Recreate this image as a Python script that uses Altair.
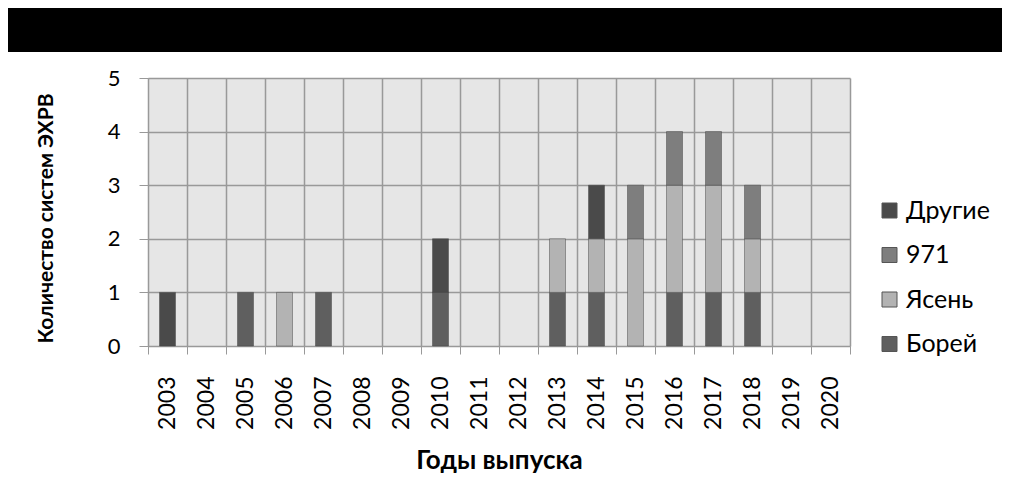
import altair as alt
import pandas as pd

years = [str(y) for y in range(2003, 2021)]
borey  = [0, 0, 1, 0, 1, 0, 0, 1, 0, 0, 1, 1, 0, 1, 1, 1, 0, 0]
yasen  = [0, 0, 0, 1, 0, 0, 0, 0, 0, 0, 1, 1, 2, 2, 2, 1, 0, 0]
s971   = [0, 0, 0, 0, 0, 0, 0, 0, 0, 0, 0, 0, 1, 1, 1, 1, 0, 0]
drugie = [1, 0, 0, 0, 0, 0, 0, 1, 0, 0, 0, 1, 0, 0, 0, 0, 0, 0]

series_names = ["Другие", "971", "Ясень", "Борей"]
series_colors = ["#4a4a4a", "#7e7e7e", "#b3b3b3", "#5f5f5f"]
stack_rank = {"Борей": 0, "Ясень": 1, "971": 2, "Другие": 3}

rows = []
for name, vals in [("Борей", borey), ("Ясень", yasen), ("971", s971), ("Другие", drugie)]:
    for yr, v in zip(years, vals):
        if v > 0:
            rows.append({"year": yr, "series": name, "count": v, "rank": stack_rank[name]})
df = pd.DataFrame(rows)

FONT = "Lato"
W, H = 702, 268

bars = alt.Chart(df).mark_bar(size=16, stroke="#444444", strokeWidth=0.8, strokeOpacity=0.6).encode(
    x=alt.X("year:N",
            scale=alt.Scale(domain=years, paddingInner=0, paddingOuter=0),
            axis=alt.Axis(title="Годы выпуска", tickBand="extent", grid=True, labelAngle=-90,
                          labelFontSize=23, labelPadding=22, tickSize=8,
                          titleFontSize=26, titleFontWeight="bold",
                          titleY=122, titleBaseline="alphabetic")),
    y=alt.Y("count:Q", stack="zero",
            scale=alt.Scale(domain=[0, 5], nice=False),
            axis=alt.Axis(title="Количество систем ЭХРВ", values=[0, 1, 2, 3, 4, 5],
                          labelFontSize=22, labelPadding=19, tickSize=9,
                          titleFontSize=21, titleFontWeight="bold",
                          titleX=-96, titleY=140, titleAngle=-90,
                          titleAlign="center", titleBaseline="alphabetic")),
    color=alt.Color("series:N",
                    scale=alt.Scale(domain=series_names, range=series_colors),
                    legend=alt.Legend(title=None, orient="none", legendX=729, legendY=120,
                                      symbolType="square", symbolSize=225,
                                      symbolStrokeColor="#555555", symbolStrokeWidth=1,
                                      labelFontSize=25, labelOffset=4, rowPadding=18.5,
                                      padding=0, labelColor="black", labelFont=FONT)),
    order=alt.Order("rank:Q", sort="ascending"),
)

band = alt.Chart(pd.DataFrame({"a": [0]})).mark_rect(color="black").encode(
    x=alt.value(-140), x2=alt.value(854), y=alt.value(-70), y2=alt.value(-26)
)

chart = alt.layer(band, bars).properties(
    width=W, height=H,
    autosize=alt.AutoSizeParams(type="none"),
    padding={"left": 140, "top": 70, "right": 152, "bottom": 140},
    background="white",
).configure_view(
    fill="#e6e6e6", stroke=None
).configure_axis(
    gridColor="#999999", gridWidth=1.5, domainColor="#999999", tickColor="#999999",
    labelColor="black", titleColor="black", labelFont=FONT, titleFont=FONT,
)

chart.save("out.html", embed_options={"renderer": "svg", "actions": False})
